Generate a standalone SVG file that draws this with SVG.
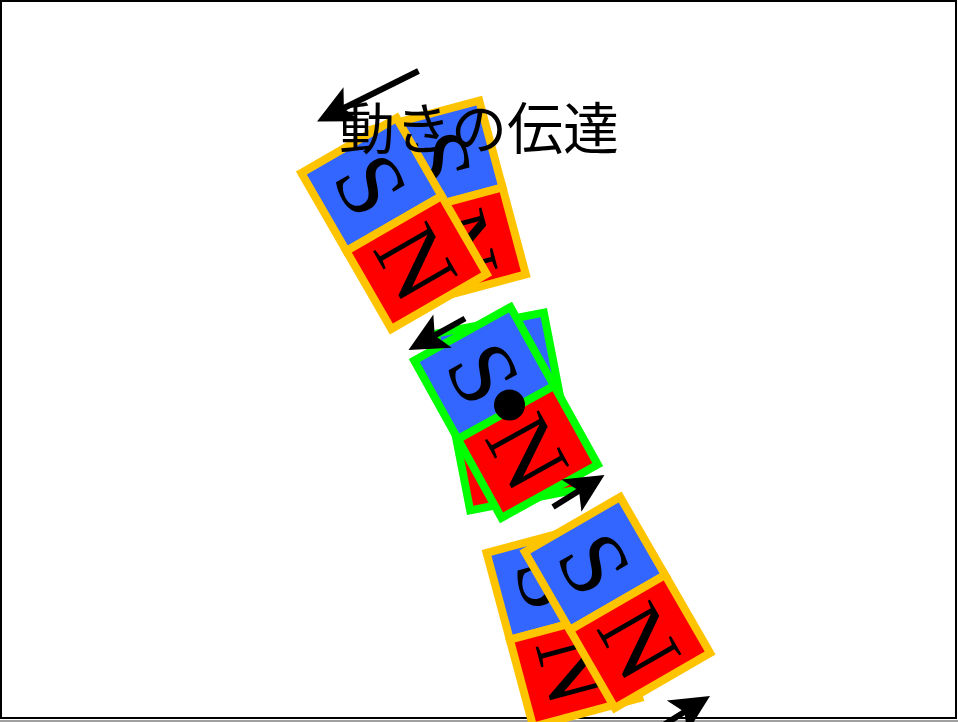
<svg xmlns="http://www.w3.org/2000/svg" width="958" height="722" viewBox="0 0 958 722">
  <style>
    .s { fill: #3366ff; }
    .n { fill: #ff0000; }
    .gold { stroke: #ffc400; stroke-width: 8; }
    .lime { stroke: #00ff00; stroke-width: 8; }
    .pole { font-family: "Liberation Serif", "Times New Roman", serif; font-size: 94px; fill: #000; stroke: none; text-anchor: middle; dominant-baseline: central; }
    .shaft { stroke: #000; stroke-width: 6; fill: none; }
    .title { font-family: "Noto Sans CJK JP", "Noto Sans", sans-serif; font-size: 56px; fill: #000; text-anchor: middle; }
  </style>
  <defs>
    <!-- bar magnet, centred on its midpoint: S half on top, N half below -->
    <g id="bar">
      <rect class="s" x="-55" y="-90" width="110" height="90"/>
      <rect class="n" x="-55" y="0" width="110" height="90"/>
      <text class="pole" transform="translate(0,-45) rotate(90)">S</text>
      <text class="pole" transform="translate(0,45) rotate(90)">N</text>
    </g>
    <!-- barbed arrowhead, tip at the origin, pointing along +x -->
    <path id="head" d="M0,0 L-39,-19 L-30,0 L-39,19 Z" fill="#000"/>
  </defs>

  <rect x="0" y="0" width="958" height="722" fill="#ffffff"/>
  <rect x="0" y="720" width="958" height="2" fill="#a0a0a0"/>
  <rect x="1" y="1" width="955" height="717" fill="none" stroke="#000" stroke-width="2"/>

  <!-- upper magnet pair -->
  <g id="magnet-top-b" class="gold" transform="translate(449.4,201.7) rotate(-15)"><use href="#bar"/></g>
  <g id="magnet-top-a" class="gold" transform="translate(394,223.5) rotate(-30)"><use href="#bar"/></g>

  <!-- pivoted middle magnet -->
  <g id="magnet-mid-b" class="lime" transform="translate(507,411.5) rotate(-11)"><use href="#bar"/></g>
  <g id="magnet-mid-a" class="lime" transform="translate(506,412.5) rotate(-29)"><use href="#bar"/></g>
  <g id="pivot"><circle cx="509.5" cy="405" r="15.5" fill="#000"/></g>

  <!-- lower magnet pair -->
  <g id="magnet-bot-b" class="gold" transform="translate(563,625.5) rotate(-15)"><use href="#bar"/></g>
  <g id="magnet-bot-a" class="gold" transform="translate(617.5,602.5) rotate(-30)"><use href="#bar"/></g>

  <!-- motion arrows -->
  <g id="connectors">
    <line class="shaft" x1="418.5" y1="71" x2="342" y2="109"/>
    <use href="#head" transform="translate(317,121.5) rotate(153.6)"/>
    <line class="shaft" x1="465" y1="318.5" x2="433" y2="336.4"/>
    <use href="#head" transform="translate(408.5,350) rotate(150.9)"/>
    <line class="shaft" x1="553" y1="507" x2="580.7" y2="489.8"/>
    <use href="#head" transform="translate(604.5,475) rotate(-31.9)"/>
    <line class="shaft" x1="655.7" y1="729.9" x2="686.3" y2="710.8"/>
    <use href="#head" transform="translate(710,696) rotate(-32)"/>
  </g>

  <g id="title"><text class="title" x="479" y="149">動きの伝達</text></g>
</svg>
